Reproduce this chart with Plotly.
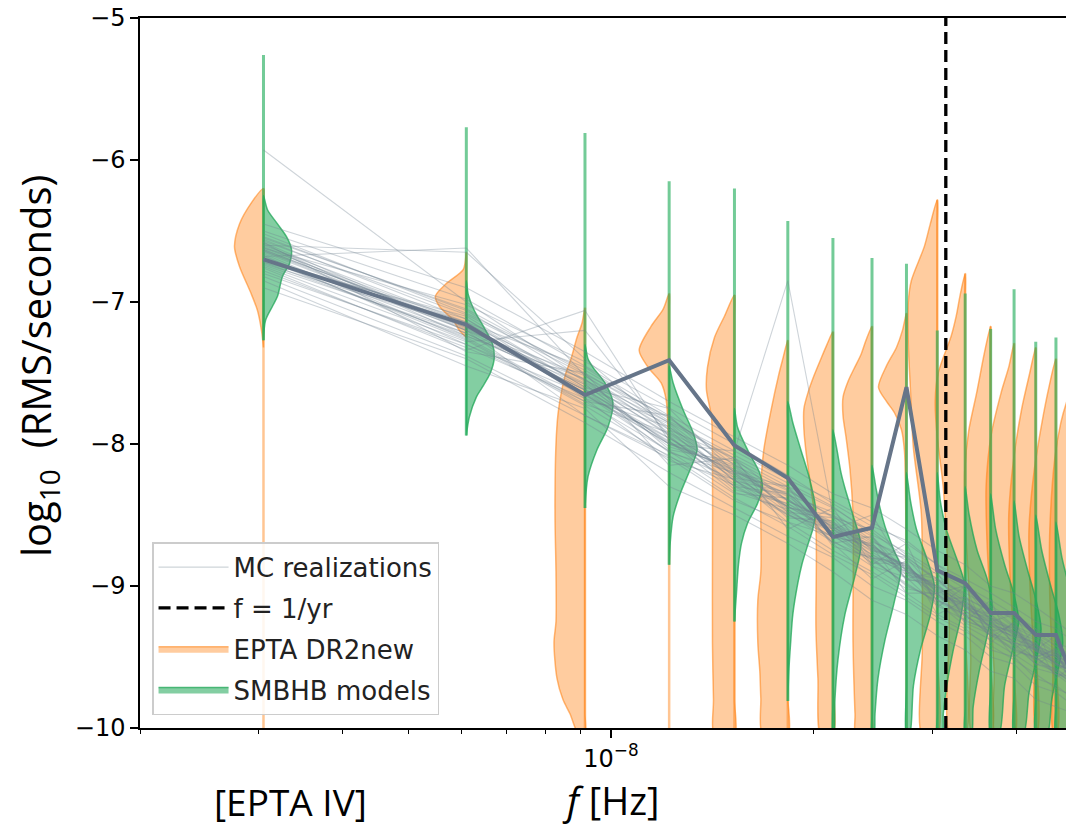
import math
import plotly.graph_objects as go

# ---------------- data ----------------
FREQS = [3.05e-9, 6.10e-9, 9.15e-9, 1.22e-8, 1.525e-8, 1.83e-8, 2.135e-8, 2.44e-8,
         2.745e-8, 3.05e-8, 3.355e-8, 3.66e-8, 3.965e-8, 4.27e-8, 4.575e-8, 4.88e-8]
F_YR = 3.14e-8

# thick line (EPTA DR2new median)
MEDIAN = [-6.70, -7.16, -7.655, -7.41, -8.01, -8.24, -8.655, -8.59,
          -7.60, -8.89, -8.98, -9.19, -9.19, -9.345, -9.345, -9.68]

# EPTA DR2new half-violins (left side): [log10 RMS, density]
EPTA_PROFILES = [
    [[-6.20, 0], [-6.30, 12], [-6.45, 24], [-6.61, 29], [-6.75, 24], [-6.93, 13], [-7.06, 6], [-7.20, 2], [-7.32, 0]],
    [[-6.65, 0], [-6.77, 3], [-6.87, 20], [-6.96, 31], [-7.03, 27], [-7.13, 13], [-7.20, 7], [-7.25, 0]],
    [[-7.04, 0], [-7.15, 3], [-7.25, 8], [-7.40, 14], [-7.52, 20], [-7.65, 24], [-7.79, 27], [-8.00, 29],
     [-8.50, 30], [-8.90, 29], [-9.25, 29], [-9.40, 31], [-9.65, 28], [-9.80, 22], [-9.90, 15], [-10.05, 6]],
    [[-6.94, 0], [-7.05, 6], [-7.17, 18], [-7.34, 30], [-7.46, 21], [-7.57, 8], [-7.69, 3], [-7.92, 1], [-8.10, 0]],
    [[-6.95, 0], [-7.10, 10], [-7.25, 20], [-7.46, 27], [-7.62, 28], [-7.81, 23], [-8.10, 22], [-8.80, 22],
     [-9.40, 22], [-9.80, 21], [-10.05, 20]],
    [[-7.27, 0], [-7.40, 5], [-7.51, 9], [-7.77, 17], [-8.04, 24], [-8.30, 27], [-8.90, 27], [-9.10, 30],
     [-9.40, 30], [-9.60, 28], [-9.79, 27], [-10.05, 25]],
    [[-7.21, 0], [-7.30, 6], [-7.40, 12], [-7.52, 19], [-7.64, 25], [-7.75, 29], [-7.90, 29], [-8.05, 27],
     [-8.31, 22], [-8.60, 17], [-9.30, 17], [-9.65, 15], [-10.05, 12]],
    [[-7.17, 0], [-7.27, 6], [-7.37, 11], [-7.47, 18], [-7.56, 24], [-7.67, 29], [-7.80, 29], [-7.95, 26],
     [-8.18, 22], [-8.50, 19], [-9.40, 19], [-9.90, 17], [-10.05, 16]],
    [[-7.08, 0], [-7.20, 4], [-7.32, 10], [-7.45, 20], [-7.60, 28], [-7.70, 20], [-7.78, 12], [-7.90, 5],
     [-8.05, 2], [-8.30, 1], [-9.00, 0]],
    [[-6.28, 0], [-6.45, 7], [-6.61, 13], [-6.85, 26], [-7.00, 29], [-7.30, 29], [-7.60, 27], [-8.02, 24],
     [-8.49, 16], [-9.00, 15], [-9.45, 15], [-10.05, 15]],
    [[-6.80, 0], [-6.95, 5], [-7.10, 9], [-7.24, 14], [-7.50, 27], [-7.70, 30], [-7.95, 28], [-8.30, 22],
     [-8.80, 18], [-9.30, 16], [-10.05, 15]],
    [[-7.17, 0], [-7.35, 6], [-7.64, 14], [-7.91, 22], [-8.20, 26], [-8.60, 25], [-9.00, 22], [-9.50, 20], [-10.05, 18]],
    [[-7.29, 0], [-7.45, 5], [-7.64, 13], [-7.94, 23], [-8.30, 28], [-8.70, 27], [-9.10, 24], [-9.60, 20], [-10.05, 18]],
    [[-7.32, 0], [-7.50, 6], [-7.75, 14], [-8.10, 22], [-8.50, 27], [-8.90, 26], [-9.40, 22], [-10.05, 18]],
    [[-7.40, 0], [-7.60, 7], [-7.85, 14], [-8.20, 22], [-8.60, 27], [-9.00, 26], [-9.50, 22], [-10.05, 18]],
    [[-7.55, 0], [-7.70, 8], [-7.85, 14], [-8.10, 20], [-8.60, 25], [-9.10, 25], [-9.60, 22], [-10.05, 20]],
]
EPTA_TOP = [-6.20, -6.65, -7.04, -6.94, -6.95, -7.27, -7.21, -7.17, -7.08, -6.28, -6.80, -7.17, -7.29, -7.32, -7.40, -7.55]
EPTA_BOT = [-10.05, -7.25, -10.05, -10.05, -10.05, -10.05, -10.05, -10.05, -10.05, -10.05, -10.05, -10.05,
            -10.05, -10.05, -10.05, -10.05]

# SMBHB model half-violins (right side): [log10 RMS, density]
SMBHB_PROFILES = [
    [[-6.25, 0], [-6.35, 4], [-6.45, 14], [-6.54, 23], [-6.63, 28], [-6.73, 26], [-6.82, 19], [-6.96, 14],
     [-7.03, 9], [-7.13, 2], [-7.27, 0]],
    [[-6.85, 0], [-6.95, 2], [-7.06, 8], [-7.17, 17], [-7.29, 26], [-7.39, 28], [-7.50, 24], [-7.60, 16],
     [-7.67, 10], [-7.81, 3], [-7.94, 0]],
    [[-7.30, 0], [-7.40, 3], [-7.46, 8], [-7.57, 20], [-7.71, 28], [-7.88, 23], [-8.04, 12], [-8.23, 3], [-8.45, 0]],
    [[-7.45, 0], [-7.57, 4], [-7.76, 14], [-7.92, 24], [-8.04, 28], [-8.18, 21], [-8.35, 11], [-8.51, 4],
     [-8.70, 1], [-8.85, 0]],
    [[-7.75, 0], [-7.88, 3], [-8.04, 13], [-8.20, 25], [-8.30, 28], [-8.42, 23], [-8.56, 13], [-8.70, 7],
     [-8.85, 4], [-9.05, 2], [-9.25, 0]],
    [[-7.70, 0], [-7.85, 5], [-8.04, 13], [-8.25, 22], [-8.47, 28], [-8.60, 25], [-8.71, 20], [-8.85, 14],
     [-8.98, 10], [-9.20, 5], [-9.38, 3], [-9.60, 1], [-9.81, 0]],
    [[-7.90, 0], [-8.04, 4], [-8.20, 8], [-8.31, 12], [-8.50, 20], [-8.71, 28], [-8.93, 22], [-9.20, 12],
     [-9.52, 5], [-9.80, 2], [-10.05, 1]],
    [[-8.15, 0], [-8.31, 4], [-8.45, 8], [-8.58, 13], [-8.75, 22], [-8.87, 29], [-9.12, 22], [-9.38, 13],
     [-9.65, 6], [-9.90, 3], [-10.05, 2]],
    [[-8.20, 0], [-8.40, 4], [-8.60, 10], [-8.80, 20], [-9.00, 28], [-9.20, 24], [-9.45, 14], [-9.70, 7], [-10.05, 3]],
    [[-8.20, 0], [-8.40, 3], [-8.60, 9], [-8.80, 19], [-8.98, 27], [-9.20, 24], [-9.45, 16], [-9.68, 10],
     [-9.90, 6], [-10.05, 5]],
    [[-8.30, 0], [-8.50, 4], [-8.75, 12], [-8.95, 22], [-9.15, 27], [-9.35, 22], [-9.60, 14], [-9.85, 8], [-10.05, 6]],
    [[-8.35, 0], [-8.60, 5], [-8.85, 14], [-9.05, 23], [-9.25, 28], [-9.45, 22], [-9.70, 14], [-10.05, 8]],
    [[-8.40, 0], [-8.65, 5], [-8.90, 14], [-9.10, 22], [-9.30, 27], [-9.50, 23], [-9.75, 15], [-10.05, 9]],
    [[-8.50, 0], [-8.75, 6], [-9.00, 15], [-9.20, 23], [-9.40, 27], [-9.60, 22], [-9.80, 16], [-10.05, 11]],
    [[-8.55, 0], [-8.80, 6], [-9.05, 15], [-9.25, 23], [-9.45, 27], [-9.65, 22], [-9.85, 16], [-10.05, 12]],
    [[-8.60, 0], [-8.85, 6], [-9.10, 15], [-9.30, 23], [-9.50, 27], [-9.70, 23], [-10.05, 14]],
]
SMBHB_TOP = [-5.26, -5.77, -5.81, -6.15, -6.20, -6.43, -6.55, -6.69, -6.73, -7.20, -6.94, -7.19, -6.91, -7.28, -7.25, -7.30]
SMBHB_BOT = [-7.27, -7.94, -8.45, -8.85, -9.25, -9.81, -10.05, -10.05, -10.05, -10.05, -10.05, -10.05,
             -10.05, -10.05, -10.05, -10.05]

# MC realizations of the SMBHB models
MC_LINES = [
    [-6.55, -7.05, -7.50, -7.85, -8.10, -8.30, -8.45, -8.62, -8.80, -8.95, -9.05, -9.15, -9.28, -9.35, -9.45, -9.50],
    [-6.70, -7.25, -7.70, -8.05, -8.25, -8.50, -8.60, -8.80, -8.90, -9.10, -9.20, -9.35, -9.40, -9.55, -9.60, -9.70],
    [-6.62, -7.15, -7.55, -7.90, -8.30, -8.35, -8.70, -8.65, -8.95, -8.90, -9.25, -9.10, -9.45, -9.30, -9.60, -9.50],
    [-6.80, -7.30, -7.65, -8.00, -8.15, -8.45, -8.50, -8.75, -8.80, -9.05, -9.00, -9.25, -9.20, -9.45, -9.35, -9.65],
    [-6.50, -6.98, -7.45, -7.80, -8.05, -8.25, -8.40, -8.55, -8.70, -8.85, -9.00, -9.10, -9.20, -9.30, -9.40, -9.45],
    [-6.65, -7.20, -7.80, -8.10, -8.40, -8.55, -8.75, -8.90, -9.05, -9.20, -9.30, -9.45, -9.50, -9.65, -9.70, -9.80],
    [-6.72, -7.10, -7.60, -7.75, -8.20, -8.30, -8.60, -8.50, -8.90, -8.95, -9.15, -9.20, -9.35, -9.40, -9.55, -9.60],
    [-6.58, -7.35, -7.50, -8.15, -8.10, -8.60, -8.45, -8.85, -8.70, -9.15, -9.00, -9.40, -9.25, -9.50, -9.45, -9.75],
    [-6.90, -7.40, -7.85, -8.20, -8.45, -8.65, -8.80, -9.00, -9.10, -9.25, -9.35, -9.50, -9.55, -9.70, -9.75, -9.85],
    [-6.45, -6.90, -7.35, -7.70, -7.95, -8.15, -8.35, -8.45, -8.60, -8.75, -8.85, -9.00, -9.05, -9.15, -9.25, -9.35],
    [-6.68, -7.22, -7.62, -7.98, -8.28, -8.42, -8.58, -8.78, -8.88, -9.02, -9.18, -9.22, -9.38, -9.42, -9.52, -9.58],
    [-6.60, -6.65, -7.40, -7.90, -8.10, -8.40, -8.55, -8.70, -8.95, -9.00, -9.10, -9.30, -9.35, -9.45, -9.50, -9.65],
    [-5.93, -7.00, -7.55, -7.85, -8.20, -8.35, -8.60, -8.75, -8.85, -9.05, -9.15, -9.25, -9.30, -9.45, -9.55, -9.60],
    [-6.75, -7.28, -7.20, -7.95, -8.30, -8.50, -8.65, -8.80, -9.00, -9.10, -9.20, -9.35, -9.45, -9.50, -9.60, -9.70],
    [-6.63, -7.18, -7.58, -8.00, -8.05, -6.85, -8.50, -8.65, -8.90, -9.00, -9.20, -9.25, -9.40, -9.45, -9.55, -9.65],
    [-6.85, -7.45, -7.75, -8.30, -8.50, -8.70, -8.90, -9.10, -9.20, -9.35, -9.45, -9.60, -9.65, -9.80, -9.85, -9.90],
    [-6.52, -7.08, -7.48, -7.82, -8.12, -8.32, -8.52, -8.60, -8.78, -8.92, -9.08, -9.18, -9.22, -9.32, -9.42, -9.52],
    [-6.66, -7.26, -7.72, -7.92, -8.22, -8.48, -8.62, -8.82, -8.98, -9.12, -9.28, -9.38, -9.48, -9.58, -9.62, -9.72],
    [-6.70, -7.12, -7.65, -8.05, -8.35, -8.38, -8.70, -8.95, -8.82, -9.20, -9.10, -9.30, -9.50, -9.40, -9.65, -9.55],
    [-6.58, -7.20, -7.52, -7.88, -8.18, -8.36, -8.48, -8.68, -8.82, -8.95, -9.12, -9.20, -9.32, -9.38, -9.48, -9.58],
    [-6.78, -7.32, -7.68, -8.12, -8.25, -8.55, -8.65, -8.72, -9.05, -9.05, -9.25, -9.30, -9.42, -9.55, -9.58, -9.68],
    [-6.62, -7.02, -7.42, -7.75, -8.00, -8.22, -8.42, -8.58, -8.68, -8.85, -8.95, -9.05, -9.15, -9.25, -9.30, -9.40],
    [-6.64, -7.16, -7.66, -7.96, -8.24, -8.44, -8.56, -8.74, -8.86, -9.04, -9.14, -9.26, -9.34, -9.44, -9.50, -9.62],
    [-6.72, -7.24, -7.58, -8.02, -8.16, -8.46, -8.66, -8.70, -8.92, -8.98, -9.22, -9.28, -9.36, -9.48, -9.56, -9.60],
    [-6.56, -7.12, -7.60, -7.86, -8.26, -8.34, -8.64, -8.84, -8.84, -9.08, -9.12, -9.34, -9.38, -9.52, -9.48, -9.66],
    [-6.68, -6.62, -7.52, -7.92, -8.14, -8.40, -8.58, -8.76, -8.90, -9.06, -9.16, -9.24, -9.40, -9.44, -9.54, -9.62],
    [-6.82, -7.38, -7.80, -8.08, -8.38, -8.58, -8.78, -8.92, -9.08, -9.22, -9.32, -9.42, -9.52, -9.62, -9.72, -9.78],
    [-6.60, -7.14, -7.46, -7.84, -8.08, -8.28, -8.44, -8.64, -8.76, -8.90, -9.02, -9.14, -9.24, -9.34, -9.42, -9.50],
    [-6.74, -7.22, -7.62, -8.06, -8.20, -8.52, -8.54, -8.86, -8.94, -9.14, -9.24, -9.32, -9.46, -9.50, -9.62, -9.64],
    [-6.54, -7.06, -7.56, -7.94, -8.32, -8.42, -8.62, -8.66, -8.96, -8.96, -9.06, -9.36, -9.26, -9.56, -9.46, -9.74],
    [-6.67, -7.30, -7.70, -7.80, -8.24, -8.30, -8.72, -8.80, -8.86, -9.10, -9.18, -9.28, -9.32, -9.46, -9.52, -9.56],
    [-6.63, -7.18, -7.64, -8.00, -8.18, -8.44, -8.60, -8.72, -8.88, -9.00, -9.14, -9.22, -9.30, -9.42, -9.48, -9.58],
    [-6.61, -7.19, -7.57, -7.93, -8.21, -8.39, -8.57, -8.73, -8.87, -9.01, -9.13, -9.23, -9.33, -9.41, -9.49, -9.57],
    [-6.69, -7.27, -7.73, -8.09, -8.29, -8.49, -8.69, -8.81, -8.99, -9.11, -9.21, -9.33, -9.41, -9.51, -9.59, -9.67],
    [-6.57, -7.09, -7.51, -7.81, -8.15, -8.33, -8.51, -8.69, -8.79, -8.97, -9.09, -9.17, -9.29, -9.37, -9.47, -9.53],
    [-6.76, -7.34, -7.06, -7.98, -8.34, -8.46, -8.68, -8.86, -9.02, -9.06, -9.26, -9.34, -9.44, -9.52, -9.62, -9.66],
    [-6.64, -7.20, -7.62, -7.96, -8.22, -8.40, -8.56, -8.72, -8.86, -9.02, -9.12, -9.22, -9.32, -9.42, -9.50, -9.60],
    [-6.71, -7.14, -7.68, -7.88, -8.26, -8.44, -8.62, -8.78, -8.92, -9.06, -9.18, -9.28, -9.36, -9.46, -9.54, -9.62],
    [-6.59, -7.24, -7.54, -8.04, -8.12, -8.48, -8.52, -8.80, -8.84, -9.10, -9.08, -9.32, -9.28, -9.50, -9.44, -9.70],
    [-6.73, -7.17, -7.61, -7.99, -8.19, -8.37, -8.59, -8.71, -8.89, -9.03, -9.15, -9.27, -9.33, -9.43, -9.53, -9.59],
]

X_MINOR = [2e-9, 3e-9, 4e-9, 5e-9, 6e-9, 7e-9, 8e-9, 9e-9, 2e-8, 3e-8, 4e-8]
Y_TICKS = [-10, -9, -8, -7, -6, -5]

# ---------------- styling ----------------
DENS_DEC = 1.0 / 674.0    # density unit -> decades of frequency
ORANGE_FILL = "rgba(255,127,14,0.40)"
ORANGE_EDGE = "rgba(255,127,14,0.55)"
ORANGE_BAR = "rgba(255,127,14,0.45)"
GREEN_FILL = "rgba(30,165,85,0.55)"
GREEN_EDGE = "rgba(30,165,85,0.75)"
GREEN_BAR = "rgba(40,175,95,0.65)"


def half_violin(f, prof, side):
    xs, ys = [], []
    for v, d in prof:
        xs.append(f * 10 ** (side * d * DENS_DEC))
        ys.append(v)
    for v, d in reversed(prof):
        xs.append(f)
        ys.append(v)
    return xs, ys


fig = go.Figure()

# EPTA half violins + extrema bars
for i, f in enumerate(FREQS):
    xs, ys = half_violin(f, EPTA_PROFILES[i], -1)
    fig.add_trace(go.Scatter(x=xs, y=ys, mode="lines", fill="toself", fillcolor=ORANGE_FILL,
                             line=dict(color=ORANGE_EDGE, width=1.5, shape="spline", smoothing=0.8),
                             name="EPTA DR2new", legendgroup="epta", showlegend=(i == 0),
                             legendrank=3, hoverinfo="skip"))
for i, f in enumerate(FREQS):
    fig.add_trace(go.Scatter(x=[f, f], y=[EPTA_TOP[i], EPTA_BOT[i]], mode="lines",
                             line=dict(color=ORANGE_BAR, width=2.5), showlegend=False, hoverinfo="skip"))

# SMBHB half violins + extrema bars
for i, f in enumerate(FREQS):
    xs, ys = half_violin(f, SMBHB_PROFILES[i], 1)
    fig.add_trace(go.Scatter(x=xs, y=ys, mode="lines", fill="toself", fillcolor=GREEN_FILL,
                             line=dict(color=GREEN_EDGE, width=1.5, shape="spline", smoothing=0.8),
                             name="SMBHB models", legendgroup="smbhb", showlegend=(i == 0),
                             legendrank=4, hoverinfo="skip"))
for i, f in enumerate(FREQS):
    fig.add_trace(go.Scatter(x=[f, f], y=[SMBHB_TOP[i], SMBHB_BOT[i]], mode="lines",
                             line=dict(color=GREEN_BAR, width=3), showlegend=False, hoverinfo="skip"))

# MC realizations
for k, line in enumerate(MC_LINES):
    fig.add_trace(go.Scatter(x=FREQS, y=line, mode="lines",
                             line=dict(color="rgba(112,128,144,0.34)", width=1.1),
                             name="MC realizations", legendgroup="mc", showlegend=(k == 0),
                             legendrank=1, hoverinfo="skip"))

# median line
fig.add_trace(go.Scatter(x=FREQS, y=MEDIAN, mode="lines", line=dict(color="#667589", width=4),
                         showlegend=False, hoverinfo="skip"))

# f = 1/yr
fig.add_trace(go.Scatter(x=[F_YR, F_YR], y=[-10, -5], mode="lines",
                         line=dict(color="black", width=3.3, dash="12px,6px"),
                         name="f = 1/yr", legendgroup="yr", legendrank=2, hoverinfo="skip"))

fig.update_layout(
    width=1066, height=827,
    margin=dict(l=140, r=0, t=18, b=99),
    plot_bgcolor="white", paper_bgcolor="white",
    legend=dict(x=0.013, y=0.018, xanchor="left", yanchor="bottom",
                bgcolor="rgba(255,255,255,0.85)", bordercolor="#cccccc", borderwidth=1.5,
                font=dict(family="DejaVu Sans", size=26, color="#222222"),
                tracegroupgap=4, itemwidth=70),
    annotations=[
        dict(text="log<sub>10</sub>  (RMS/seconds)", xref="paper", yref="paper", x=-0.110, y=0.51,
             textangle=-90, showarrow=False, font=dict(family="Open Sans", size=40, color="black"),
             xanchor="center", yanchor="middle"),
        dict(text="<i>f</i> [Hz]", xref="paper", yref="paper", x=0.5076, y=-0.101,
             showarrow=False, font=dict(family="Open Sans", size=38, color="black"),
             xanchor="center", yanchor="middle"),
        dict(text="[EPTA IV]", xref="paper", yref="paper", x=0.162, y=-0.104,
             showarrow=False, font=dict(family="Open Sans", size=37, color="black"),
             xanchor="center", yanchor="middle"),
    ],
)

fig.update_xaxes(type="log", range=[math.log10(2e-9), -7.3247],
                 showline=True, linecolor="black", linewidth=1.5, mirror=True,
                 showgrid=False, zeroline=False,
                 ticks="outside", ticklen=8, tickwidth=1.5, tickcolor="black",
                 tickvals=[1e-8], ticktext=["10<sup>−8</sup>"],
                 tickfont=dict(family="DejaVu Sans", size=24, color="black"),
                 minor=dict(ticks="outside", ticklen=4.5, tickwidth=1.2, tickcolor="black",
                            tickvals=X_MINOR, showgrid=False))
fig.update_yaxes(range=[-10, -5], showline=True, linecolor="black", linewidth=1.5, mirror=False,
                 showgrid=False, zeroline=False,
                 ticks="outside", ticklen=8, tickwidth=1.5, tickcolor="black",
                 tickvals=Y_TICKS, ticktext=["−10", "−9", "−8", "−7", "−6", "−5"],
                 tickfont=dict(family="DejaVu Sans", size=24, color="black"))

fig.write_html("out.html")
